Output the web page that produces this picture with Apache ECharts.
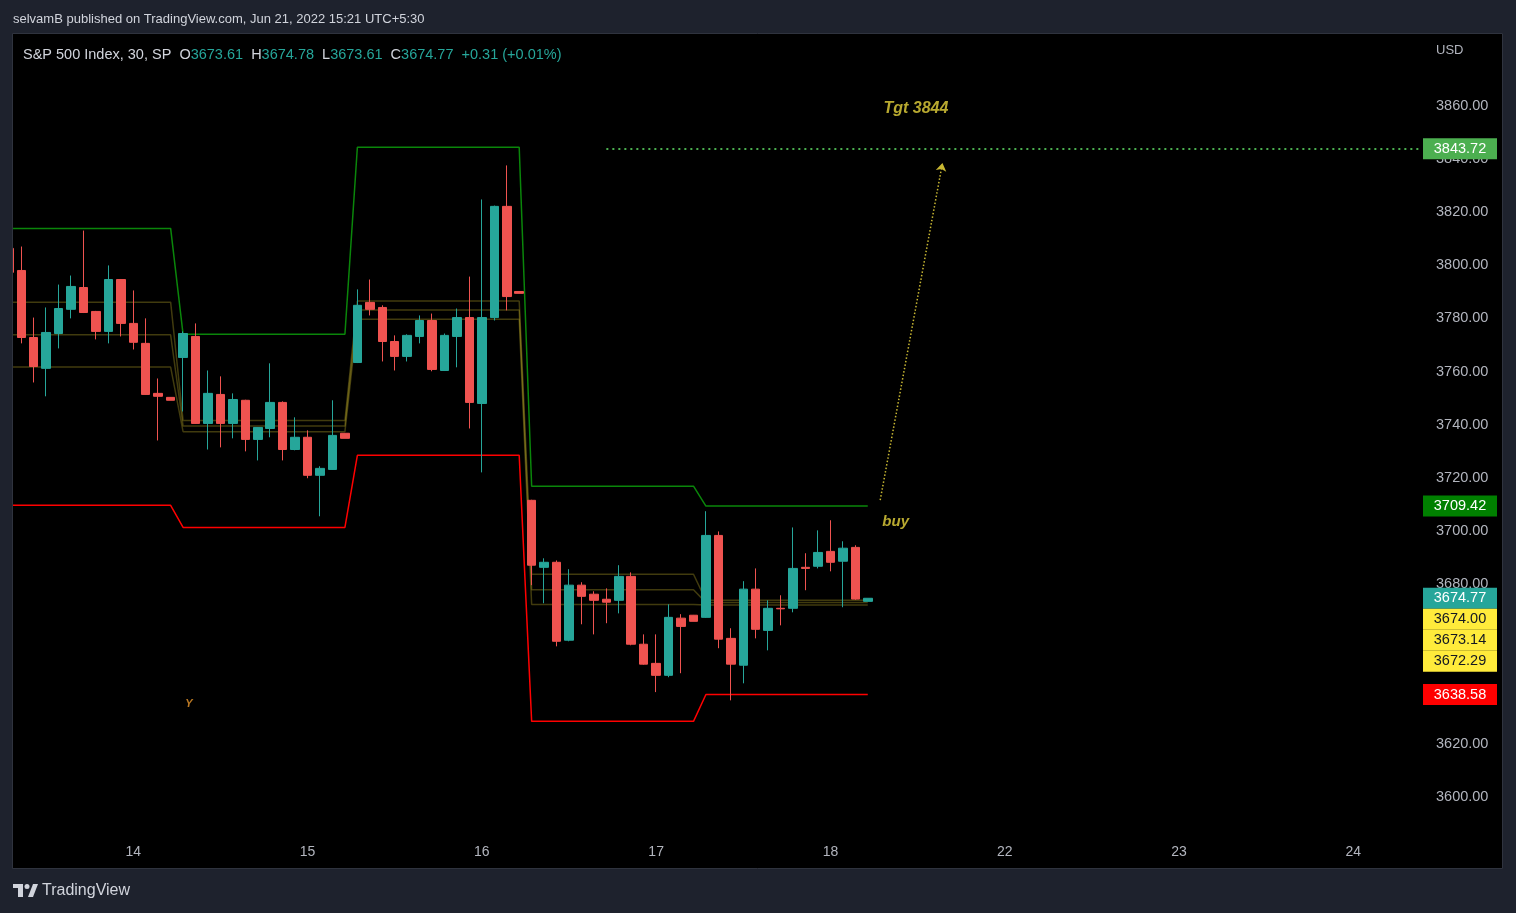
<!DOCTYPE html>
<html>
<head>
<meta charset="utf-8">
<script src="https://cdn.jsdelivr.net/npm/echarts@6/dist/echarts.min.js"></script>
<style>
html,body{margin:0;padding:0;background:#1e222d;}
#c{width:1516px;height:913px;}
</style>
</head>
<body>
<div id="c"></div>
<script>
// ---------------- DATA ----------------
const barsPerSession = 14; // 30-min bars per US session (incl. 16:00 print)
const opens = [
  3806.3,3798.0,3772.8,3761.2,3774.3,3783.4,3791.6,3782.6,3775.1,3794.6,3778.1,3770.6,3751.8,3750.3,
  3765.3,3773.2,3740.5,3751.4,3740.5,3749.2,3734.5,3738.6,3748.4,3730.7,3735.3,3721.0,3723.2,3736.8,
  3763.4,3786.0,3784.1,3771.3,3765.7,3773.2,3779.2,3760.4,3773.2,3780.3,3748.0,3780.3,3822.1,3790.1,
  3711.6,3686.4,3688.3,3659.0,3679.7,3676.3,3674.4,3674.0,3683.0,3657.5,3650.3,3645.8,3667.3,3668.4,
  3667.6,3698.4,3659.7,3649.6,3678.2,3662.7,3671.0,3671.0,3686.4,3686.8,3692.4,3688.7,3693.9,3673.61
];
const highs = [
  3807.0,3807.0,3780.3,3784.1,3792.7,3796.1,3813.0,3782.8,3799.9,3794.8,3790.5,3780.0,3757.4,3750.4,
  3775.1,3778.1,3760.4,3758.2,3751.8,3749.4,3739.1,3763.1,3748.8,3742.8,3737.9,3724.4,3749.2,3736.9,
  3790.9,3794.6,3784.9,3773.6,3774.0,3781.1,3781.8,3774.3,3783.7,3795.7,3824.7,3822.4,3837.5,3790.2,
  3711.8,3689.8,3689.0,3685.7,3680.8,3677.4,3678.5,3687.2,3684.5,3661.2,3661.2,3672.5,3668.8,3668.5,
  3707.5,3699.9,3663.5,3681.2,3686.0,3674.0,3675.9,3701.4,3691.7,3700.3,3704.1,3696.2,3694.7,3674.78
];
const lows = [
  3796.1,3770.6,3755.9,3750.7,3768.7,3780.0,3782.0,3772.1,3770.6,3773.2,3768.3,3751.2,3734.1,3749.2,
  3745.0,3740.3,3730.7,3731.5,3734.9,3730.0,3726.6,3735.3,3726.6,3730.4,3719.9,3705.6,3723.0,3734.9,
  3763.2,3781.1,3763.8,3760.4,3763.8,3770.6,3760.1,3760.2,3761.6,3738.6,3722.1,3779.2,3783.0,3789.4,
  3679.7,3672.9,3656.7,3658.6,3665.0,3661.2,3665.4,3669.1,3657.1,3649.8,3639.5,3645.1,3646.6,3666.1,
  3667.4,3656.0,3636.4,3642.8,3659.7,3655.2,3664.6,3669.5,3677.8,3686.0,3684.9,3671.4,3674.2,3673.61
];
const closes = [
  3797.3,3772.8,3761.9,3774.7,3783.7,3792.0,3782.2,3775.1,3794.6,3778.1,3771.0,3751.4,3750.7,3749.2,
  3774.3,3740.5,3751.8,3740.5,3749.5,3734.5,3739.0,3748.4,3730.7,3735.3,3721.0,3723.6,3736.0,3734.9,
  3784.9,3783.4,3771.3,3765.7,3773.6,3779.2,3760.8,3773.6,3780.3,3748.4,3780.3,3822.1,3788.2,3789.4,
  3687.2,3688.3,3658.6,3679.7,3675.5,3674.0,3673.3,3683.0,3657.5,3650.0,3645.8,3667.6,3664.2,3666.1,
  3698.4,3659.4,3650.0,3678.2,3663.1,3671.0,3670.8,3686.0,3686.0,3692.0,3688.3,3693.6,3674.46,3674.77
];
// per-session indicator levels (one value per session)
const levelHigh = [3813.8, 3774.0, 3844.3, 3716.9, 3709.42];
const levelLow  = [3709.7, 3701.4, 3728.5, 3628.5, 3638.58];
const pivotTop  = [3786.1, 3741.6, 3786.5, 3683.8, 3674.00];
const pivotMid  = [3773.8, 3739.5, 3783.1, 3678.0, 3673.14];
const pivotBot  = [3761.7, 3737.4, 3779.7, 3672.4, 3672.29];
// time axis labels (day number shown at the bar that crosses midnight, UTC+5:30)
const dayLabels    = ['14','15','16','17','18','22','23','24'];
const dayLabelBars = [10, 24, 38, 52, 66, 80, 94, 108];
const priceTicks = [3600,3620,3640,3660,3680,3700,3720,3740,3760,3780,3800,3820,3840,3860];
// drawing annotations
const targetPrice = 3843.72;
const targetStartBar = 48;
const arrowFrom = [70, 3711.7];
const arrowTo   = [75, 3838.4];
const noteTexts  = ['Tgt 3844', 'buy', 'Y'];
const noteBars   = [72.87, 71.24, 14.47];
const notePrices = [3858.9, 3703.5, 3635.0];

// ---------------- LAYOUT ----------------
const FONT = '"Liberation Sans", Arial, sans-serif';
const G = {left: 13, right: 95, top: 34, bottom: 73};
const X_MIN = 0.337, X_MAX = 113.44;
const Y_MIN = 3583.9, Y_MAX = 3886.9;
const UP = '#26a69a', DOWN = '#ef5350';
const PAGE = '#1e222d', EDGE = '#2f333e';

const n = closes.length;
const candleData = opens.map((o, i) => [i, o, closes[i], lows[i], highs[i]]);
const perBar = arr => opens.map((_, i) => [i, arr[Math.floor(i / barsPerSession)]]);

const last = n - 1;
const chg = closes[last] - closes[last - 1];
const pct = chg / closes[last - 1] * 100;
const sgn = v => (v >= 0 ? '+' : '') + v.toFixed(2);

const plotH = 913 - G.top - G.bottom;
const ppu = plotH / (Y_MAX - Y_MIN);
const lastIdxSession = levelHigh.length - 1;
// price labels on the scale
const tagH = 21;
function tag(v, bg, fg, stackK, baseV) {
  const dy = stackK ? tagH * stackK + (v - baseV) * ppu : 0;
  return {
    coord: [X_MAX, v], value: v, symbol: 'rect', symbolSize: [74, tagH],
    symbolOffset: [39, dy], itemStyle: {color: bg},
    label: {show: true, position: 'inside', formatter: v.toFixed(2), color: fg,
            fontSize: 14.5, fontFamily: FONT}
  };
}
const tags = [
  tag(targetPrice, '#4caf50', '#ffffff', 0, 0),
  tag(levelHigh[lastIdxSession], '#008000', '#ffffff', 0, 0),
  tag(closes[last], UP, '#ffffff', 0, 0),
  tag(pivotTop[lastIdxSession], '#ffeb3b', '#131722', 1, closes[last]),
  tag(pivotMid[lastIdxSession], '#ffeb3b', '#131722', 2, closes[last]),
  tag(pivotBot[lastIdxSession], '#ffeb3b', '#131722', 3, closes[last]),
  tag(levelLow[lastIdxSession], '#ff0000', '#ffffff', 0, 0)
];

const noteStyles = [
  {color: '#e6d33c', fontSize: 16, fontStyle: 'italic', fontWeight: 'bold'},
  {color: '#e6d33c', fontSize: 15, fontStyle: 'italic', fontWeight: 'bold'},
  {color: '#e8962c', fontSize: 11, fontStyle: 'italic', fontWeight: 'bold'}
];
const noteData = noteTexts.map((t, i) => ({
  value: [noteBars[i], notePrices[i]],
  label: Object.assign({show: true, position: 'inside', formatter: t, fontFamily: FONT}, noteStyles[i])
}));

const lineSeries = (name, arr, color, width) => ({
  name, type: 'line', data: perBar(arr), symbol: 'none', clip: true,
  lineStyle: {color, width}, z: 1, silent: true
});

const olive = 'rgba(190,172,40,0.34)';

const option = {
  animation: false,
  backgroundColor: PAGE,
  textStyle: {fontFamily: FONT},
  graphic: [
    {type: 'rect', z: -100, shape: {x: 12.5, y: 33.5, width: 1490, height: 835},
     style: {fill: '#000000'}},
    // page margin to the left of the pane (hides the part of the first bar outside the pane)
    {type: 'rect', z: 100, shape: {x: 0, y: 30, width: 12.5, height: 842}, style: {fill: PAGE}},
    {type: 'rect', z: 101, shape: {x: 12.5, y: 33.5, width: 1490, height: 835},
     style: {fill: null, stroke: EDGE, lineWidth: 1}},
    // TradingView logo
    {type: 'group', left: 13, top: 884, z: 101, children: [
      {type: 'rect', shape: {x: 0, y: 0, width: 10, height: 4}, style: {fill: '#d1d4dc'}},
      {type: 'rect', shape: {x: 5, y: 0, width: 5, height: 13}, style: {fill: '#d1d4dc'}},
      {type: 'circle', shape: {cx: 14, cy: 2.5, r: 2.5}, style: {fill: '#d1d4dc'}},
      {type: 'polygon', shape: {points: [[15, 13], [20, 13], [25, 0], [20, 0]]}, style: {fill: '#d1d4dc'}}
    ]}
  ],
  title: [
    {left: 13, top: 13, padding: 0, text: 'selvamB published on TradingView.com, Jun 21, 2022 15:21 UTC+5:30',
     textStyle: {color: '#d1d4dc', fontSize: 13, fontWeight: 'normal', fontFamily: FONT}},
    {left: 23, top: 47, padding: 0,
     text: '{n|S&P 500 Index, 30, SP}  {l|O}{v|' + opens[last].toFixed(2) + '}  {l|H}{v|' + highs[last].toFixed(2) +
           '}  {l|L}{v|' + lows[last].toFixed(2) + '}  {l|C}{v|' + closes[last].toFixed(2) + '}  {v|' +
           sgn(chg) + ' (' + sgn(pct) + '%)}',
     textStyle: {fontSize: 14.5, fontFamily: FONT, color: '#d1d4dc', fontWeight: 'normal',
       rich: {n: {color: '#d1d4dc', fontSize: 14.5, fontFamily: FONT},
              l: {color: '#d1d4dc', fontSize: 14.5, fontFamily: FONT},
              v: {color: UP, fontSize: 14.5, fontFamily: FONT}}}},
    {left: 1436, top: 44, padding: 0, text: 'USD',
     textStyle: {color: '#b2b5be', fontSize: 13, fontWeight: 'normal', fontFamily: FONT}},
    {left: 42, top: 883, padding: 0, text: 'TradingView',
     textStyle: {color: '#d1d4dc', fontSize: 16, fontWeight: 'normal', fontFamily: FONT}}
  ],
  grid: {left: G.left, right: G.right, top: G.top, bottom: G.bottom, containLabel: false},
  xAxis: {
    type: 'value', min: X_MIN, max: X_MAX,
    axisLine: {show: false}, axisTick: {show: false}, splitLine: {show: false},
    axisLabel: {
      customValues: dayLabelBars,
      formatter: v => { const k = dayLabelBars.indexOf(Math.round(v)); return k >= 0 ? dayLabels[k] : ''; },
      color: '#b2b5be', fontSize: 14, margin: 5, fontFamily: FONT
    }
  },
  yAxis: {
    type: 'value', position: 'right', min: Y_MIN, max: Y_MAX, scale: true,
    axisLine: {show: false}, axisTick: {show: false}, splitLine: {show: false},
    axisLabel: {
      customValues: priceTicks, formatter: v => v.toFixed(2),
      color: '#b2b5be', fontSize: 14.5, margin: 15, fontFamily: FONT
    }
  },
  series: [
    lineSeries('pivotTop', pivotTop, olive, 1.5),
    lineSeries('pivotMid', pivotMid, olive, 1.5),
    lineSeries('pivotBot', pivotBot, olive, 1.5),
    lineSeries('levelHigh', levelHigh, '#0a860a', 1.5),
    lineSeries('levelLow', levelLow, '#ff0000', 1.5),
    {
      name: 'SPX', type: 'candlestick', data: candleData, barWidth: 9, clip: true, z: 3,
      itemStyle: {color: UP, color0: DOWN, borderColor: UP, borderColor0: DOWN, borderWidth: 1}
    },
    {
      name: 'notes', type: 'scatter', data: noteData, symbolSize: 0, z: 5, silent: true,
      markLine: {
        silent: true, animation: false, symbol: ['none', 'none'], label: {show: false},
        data: [
          [{coord: [targetStartBar, targetPrice], lineStyle: {color: '#4caf50', width: 2, type: [2, 4]}},
           {coord: [X_MAX, targetPrice]}],
          [{coord: arrowFrom, symbol: 'none', lineStyle: {color: '#c8b732', width: 1.5, type: [1.5, 2]}},
           {coord: arrowTo, symbol: 'arrow', symbolSize: 8}]
        ]
      },
      markPoint: {silent: true, animation: false, data: tags}
    }
  ]
};

const chart = echarts.init(document.getElementById('c'), null, {renderer: 'canvas'});
chart.setOption(option);
</script>
</body>
</html>
